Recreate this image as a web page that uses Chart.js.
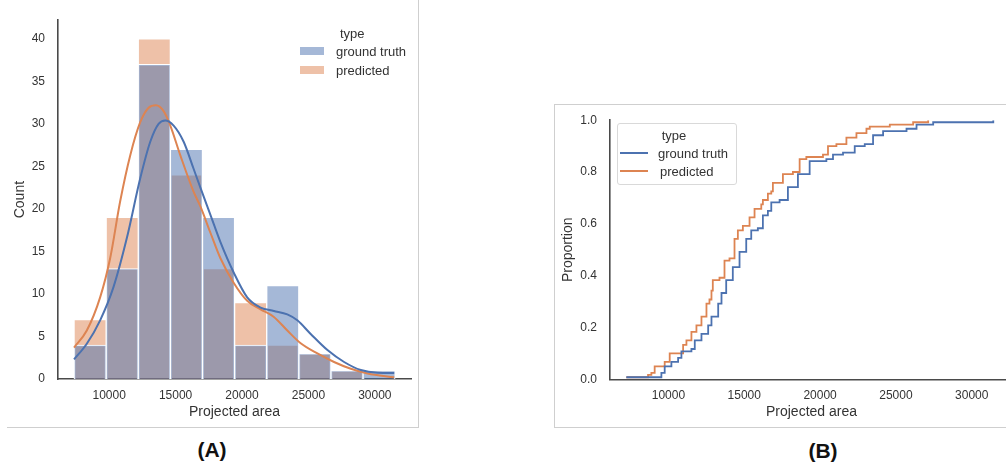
<!DOCTYPE html>
<html>
<head>
<meta charset="utf-8">
<script src="https://cdn.jsdelivr.net/npm/chart.js@4.4.1/dist/chart.umd.min.js"></script>
<style>
  html, body { margin: 0; padding: 0; background: #fff; }
  body { width: 1006px; height: 466px; position: relative; overflow: hidden;
         font-family: "Liberation Sans", Arial, sans-serif; color: #333; }
  canvas { position: absolute; }
  .abs { position: absolute; }
  .txt { position: absolute; white-space: nowrap; line-height: 1; transform: translateY(-50%);
         font-size: 13px; color: #333; }
  .panel-tag { position: absolute; font-weight: bold; font-size: 21px; color: #111;
               line-height: 1; transform: translate(-50%, -50%); }
</style>
</head>
<body>
<!-- panel frames -->
<div class="abs" style="left:418px;top:0;width:1px;height:427px;background:#cfcfcf"></div>
<div class="abs" style="left:7px;top:427px;width:412px;height:1px;background:#cfcfcf"></div>
<div class="abs" style="left:554px;top:104px;width:460px;height:322px;border-left:1px solid #cfcfcf;border-top:1px solid #cfcfcf;border-bottom:1px solid #cfcfcf;"></div>

<canvas id="hist" width="420" height="430" style="left:0;top:0"></canvas>
<canvas id="ecdf" width="466" height="330" style="left:554px;top:100px"></canvas>

<!-- legend, histogram panel -->
<div class="txt" style="left:340px;top:33px">type</div>
<div class="abs" id="patchGT" style="left:300px;top:47px;width:24px;height:8px"></div>
<div class="txt" style="left:336px;top:51px">ground truth</div>
<div class="abs" id="patchPR" style="left:300px;top:66px;width:24px;height:8px"></div>
<div class="txt" style="left:336px;top:70px">predicted</div>

<!-- legend, ECDF panel -->
<div class="abs" style="left:617px;top:123px;width:118px;height:60px;border:1px solid #d9d9d9;border-radius:3px;background:rgba(255,255,255,0.8)"></div>
<div class="txt" style="left:674px;top:135px;transform:translate(-50%,-50%)">type</div>
<div class="abs" id="lineGT" style="left:620px;top:152px;width:28px;height:2px"></div>
<div class="txt" style="left:658px;top:153px">ground truth</div>
<div class="abs" id="linePR" style="left:620px;top:170px;width:28px;height:2px"></div>
<div class="txt" style="left:660px;top:171px">predicted</div>

<div class="panel-tag" style="left:212px;top:449px">(A)</div>
<div class="panel-tag" style="left:823px;top:450px">(B)</div>

<script>
// ---- data ----
const binEdges = [7358, 9775, 12192, 14609, 17026, 19443, 21860, 24277, 26694, 29111, 31528];
const countGroundTruth = [4, 13, 37, 27, 19, 4, 11, 3, 1, 1];
const countPredicted   = [7, 19, 40, 24, 13, 9, 4, 3, 1, 0];

// kernel density estimates, scaled to counts
const kdeGroundTruthX = [7358, 8317, 9321, 10325, 11336, 12340, 13094, 13721, 14226, 14853, 15608, 16362, 16868, 17623, 18377, 19381, 20392, 21396, 22400, 23411, 24164, 25170, 26430, 27685, 28943, 30204, 31457];
const kdeGroundTruthY = [2.3, 4.15, 6.9, 10.8, 16.6, 23.6, 27.9, 30.0, 30.4, 29.8, 27.9, 24.7, 22.5, 19.3, 16.1, 12.5, 9.6, 8.4, 8.0, 7.6, 6.9, 5.3, 3.4, 2.0, 1.05, 0.73, 0.7];
const kdePredictedX = [7358, 8317, 9321, 10075, 10830, 11585, 12340, 12969, 13525, 14100, 14604, 15358, 16362, 16868, 17623, 18377, 19381, 20392, 21396, 22400, 23411, 24415, 25675, 26928, 28189, 29449, 31457];
const kdePredictedY = [3.7, 5.7, 9.6, 14.2, 20.9, 26.3, 30.2, 31.9, 32.2, 31.5, 29.8, 26.3, 22.0, 20.3, 17.2, 14.2, 11.3, 9.2, 8.2, 7.3, 5.7, 4.2, 3.0, 2.0, 1.2, 0.65, 0.2];

// empirical CDF steps (area, proportion)
const ecdfGroundTruthX = [7226, 9538, 9756, 10198, 10641, 10859, 11519, 11739, 12180, 12622, 12840, 13283, 13501, 13811, 14247, 14690, 15132, 15462, 15898, 16229, 16559, 16783, 17332, 17880, 18540, 19313, 20416, 20852, 21513, 22285, 22946, 23494, 24155, 25700, 26360, 27457, 31420];
const ecdfGroundTruthP = [0.008, 0.025, 0.05, 0.067, 0.083, 0.108, 0.117, 0.15, 0.175, 0.208, 0.242, 0.292, 0.333, 0.383, 0.433, 0.492, 0.542, 0.575, 0.583, 0.633, 0.65, 0.683, 0.692, 0.742, 0.792, 0.842, 0.85, 0.867, 0.875, 0.9, 0.908, 0.942, 0.958, 0.967, 0.983, 0.992, 1.0];
const ecdfPredictedX = [7226, 8659, 8877, 9095, 9756, 10086, 10971, 11189, 11519, 11849, 12180, 12510, 12708, 12840, 12928, 13369, 13699, 14029, 14359, 14580, 14910, 15350, 15680, 16123, 16229, 16559, 16783, 16889, 17550, 18210, 18653, 19095, 20191, 20522, 21077, 21737, 22398, 23058, 23276, 24597, 26136, 27127];
const ecdfPredictedP = [0.008, 0.017, 0.025, 0.05, 0.067, 0.1, 0.133, 0.15, 0.183, 0.208, 0.242, 0.292, 0.308, 0.342, 0.383, 0.392, 0.458, 0.467, 0.542, 0.575, 0.592, 0.625, 0.658, 0.675, 0.692, 0.717, 0.725, 0.758, 0.792, 0.8, 0.85, 0.858, 0.867, 0.9, 0.908, 0.933, 0.95, 0.967, 0.975, 0.983, 0.992, 1.0];

// axis ticks
const areaTicks = [10000, 15000, 20000, 25000, 30000];
const countTicks = [0, 5, 10, 15, 20, 25, 30, 35, 40];
const proportionTicks = [0, 0.2, 0.4, 0.6, 0.8, 1.0];

// ---- styling ----
const BLUE = '#4C72B0', ORANGE = '#DD8452';
const BLUE_FILL = 'rgba(76,114,176,0.5)', ORANGE_FILL = 'rgba(221,132,82,0.5)';
const TEXT = '#333333', AXIS = '#4a4a4a';
const FONT = '"Liberation Sans", Arial, sans-serif';

document.getElementById('patchGT').style.background = BLUE_FILL;
document.getElementById('patchPR').style.background = ORANGE_FILL;
document.getElementById('lineGT').style.background = BLUE;
document.getElementById('linePR').style.background = ORANGE;

Chart.defaults.font.family = FONT;
Chart.defaults.color = TEXT;

const pairs = (xs, ys) => xs.map((x, i) => ({ x: x, y: ys[i] }));
const binCenters = binEdges.slice(0, -1).map((e, i) => (e + binEdges[i + 1]) / 2);
const noGrid = { display: false, drawTicks: false, tickLength: 0 };

function axisX(opts) {
  return {
    type: 'linear', min: 6150, max: 32720, offset: false,
    grid: noGrid,
    border: { display: true, color: AXIS, width: 1.6 },
    ticks: { padding: opts.tickPad, autoSkip: false, maxRotation: 0, color: TEXT,
             font: { size: 12 }, callback: v => String(v) },
    afterBuildTicks: s => { s.ticks = areaTicks.map(v => ({ value: v })); },
    afterFit: s => { s.height = opts.height; },
    title: { display: true, text: 'Projected area', color: TEXT, font: { size: 14 },
             padding: { top: 0, bottom: opts.titlePad } }
  };
}

// ---- histogram with KDE ----
new Chart(document.getElementById('hist'), {
  type: 'bar',
  data: {
    datasets: [
      { type: 'line', label: 'kde ground truth', data: pairs(kdeGroundTruthX, kdeGroundTruthY),
        borderColor: BLUE, borderWidth: 2, pointRadius: 0, cubicInterpolationMode: 'monotone', order: 0 },
      { type: 'line', label: 'kde predicted', data: pairs(kdePredictedX, kdePredictedY),
        borderColor: ORANGE, borderWidth: 2, pointRadius: 0, cubicInterpolationMode: 'monotone', order: 0 },
      { label: 'ground truth', data: pairs(binCenters, countGroundTruth), backgroundColor: BLUE_FILL,
        borderColor: '#ffffff', borderWidth: 1, grouped: false, barPercentage: 1, categoryPercentage: 1, order: 1 },
      { label: 'predicted', data: pairs(binCenters, countPredicted), backgroundColor: ORANGE_FILL,
        borderColor: '#ffffff', borderWidth: 1, grouped: false, barPercentage: 1, categoryPercentage: 1, order: 2 }
    ]
  },
  options: {
    responsive: false, animation: false,
    layout: { padding: { left: 0, right: 9, top: 17, bottom: 0 } },
    plugins: { legend: { display: false }, tooltip: { enabled: false } },
    scales: {
      x: axisX({ tickPad: 9, height: 51, titlePad: 9 }),
      y: {
        type: 'linear', min: 0, max: 42.2,
        grid: noGrid,
        border: { display: true, color: AXIS, width: 1.6 },
        ticks: { padding: 13, color: TEXT, font: { size: 12 } },
        afterBuildTicks: s => { s.ticks = countTicks.map(v => ({ value: v })); },
        afterFit: s => { s.width = 58; },
        title: { display: true, text: 'Count', color: TEXT, font: { size: 14 }, padding: { top: 11.6, bottom: 0 } }
      }
    }
  }
});

// ---- empirical CDF ----
new Chart(document.getElementById('ecdf'), {
  type: 'line',
  data: {
    datasets: [
      { label: 'ground truth', data: pairs(ecdfGroundTruthX, ecdfGroundTruthP), borderColor: BLUE,
        borderWidth: 1.8, pointRadius: 0, stepped: 'before' },
      { label: 'predicted', data: pairs(ecdfPredictedX, ecdfPredictedP), borderColor: ORANGE,
        borderWidth: 1.8, pointRadius: 0, stepped: 'before' }
    ]
  },
  options: {
    responsive: false, animation: false,
    layout: { padding: { left: 0, right: 7, top: 18.3, bottom: 0 } },
    plugins: { legend: { display: false }, tooltip: { enabled: false } },
    scales: {
      x: axisX({ tickPad: 9.5, height: 50.7, titlePad: 9.9 }),
      y: {
        type: 'linear', min: 0, max: 1,
        grid: noGrid,
        border: { display: true, color: AXIS, width: 1.6 },
        ticks: { padding: 13, color: TEXT, font: { size: 12 }, callback: v => Number(v).toFixed(1) },
        afterBuildTicks: s => { s.ticks = proportionTicks.map(v => ({ value: v })); },
        afterFit: s => { s.width = 56; },
        title: { display: true, text: 'Proportion', color: TEXT, font: { size: 14 }, padding: { top: 5.6, bottom: 0 } }
      }
    }
  }
});
</script>
</body>
</html>
